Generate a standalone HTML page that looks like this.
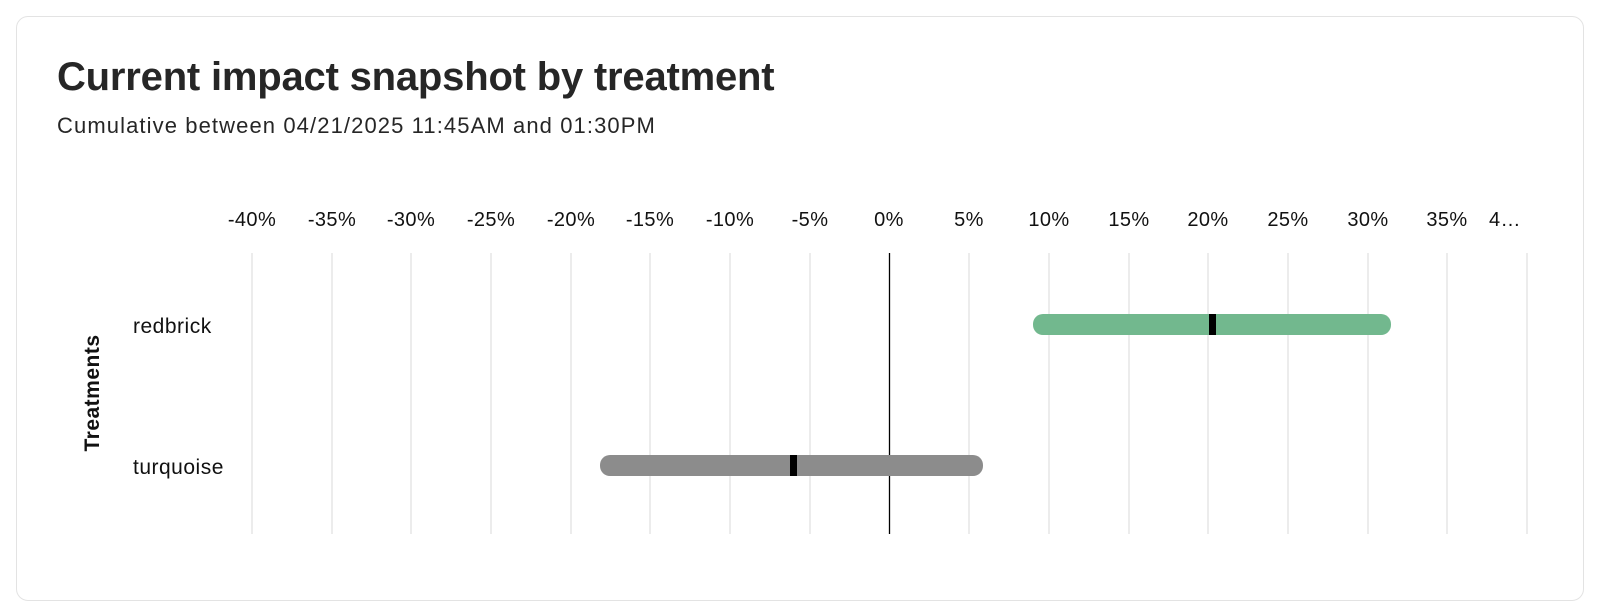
<!DOCTYPE html>
<html><head><meta charset="utf-8"><style>
body{margin:0;width:1600px;height:616px;background:#fff;font-family:"Liberation Sans",sans-serif;overflow:hidden}
.card{position:absolute;left:16px;top:16px;width:1566px;height:583px;border:1px solid #e3e3e3;border-radius:12px}
</style></head><body>
<div class="card"></div>
<div style="position:absolute;left:57px;top:55px;font-size:40px;font-weight:600;color:#262626;letter-spacing:-0.2px">Current impact snapshot by treatment</div>
<div style="position:absolute;left:57px;top:113px;font-size:22px;color:#262626;letter-spacing:1.1px">Cumulative between 04/21/2025 11:45AM and 01:30PM</div>
<svg width="1600" height="616" style="position:absolute;left:0;top:0" font-family="Liberation Sans, sans-serif">
<g stroke="#e2e2e2" stroke-width="1.3">
<line x1="252" y1="253" x2="252" y2="534"/><line x1="332" y1="253" x2="332" y2="534"/><line x1="411" y1="253" x2="411" y2="534"/><line x1="491" y1="253" x2="491" y2="534"/><line x1="571" y1="253" x2="571" y2="534"/><line x1="650" y1="253" x2="650" y2="534"/><line x1="730" y1="253" x2="730" y2="534"/><line x1="810" y1="253" x2="810" y2="534"/><line x1="969" y1="253" x2="969" y2="534"/><line x1="1049" y1="253" x2="1049" y2="534"/><line x1="1129" y1="253" x2="1129" y2="534"/><line x1="1208" y1="253" x2="1208" y2="534"/><line x1="1288" y1="253" x2="1288" y2="534"/><line x1="1368" y1="253" x2="1368" y2="534"/><line x1="1447" y1="253" x2="1447" y2="534"/><line x1="1527" y1="253" x2="1527" y2="534"/>
</g>
<line x1="889.5" y1="253" x2="889.5" y2="534" stroke="#000" stroke-width="1.3"/>
<g font-size="20" fill="#111" text-anchor="middle" letter-spacing="0.4">
<text x="252" y="226">-40%</text><text x="332" y="226">-35%</text><text x="411" y="226">-30%</text><text x="491" y="226">-25%</text><text x="571" y="226">-20%</text><text x="650" y="226">-15%</text><text x="730" y="226">-10%</text><text x="810" y="226">-5%</text><text x="889" y="226">0%</text><text x="969" y="226">5%</text><text x="1049" y="226">10%</text><text x="1129" y="226">15%</text><text x="1208" y="226">20%</text><text x="1288" y="226">25%</text><text x="1368" y="226">30%</text><text x="1447" y="226">35%</text><text x="1505" y="226">4…</text>
</g>
<rect x="1033" y="314" width="358" height="21" rx="10" fill="#72b88e"/>
<rect x="1209" y="314" width="7" height="21" fill="#000"/>
<rect x="600" y="455" width="383" height="21" rx="10" fill="#8c8c8c"/>
<rect x="790" y="455" width="7" height="21" fill="#000"/>
<text x="133" y="333" font-size="21" fill="#111" letter-spacing="0.5">redbrick</text>
<text x="133" y="474" font-size="21" fill="#111" letter-spacing="0.5">turquoise</text>
<text transform="translate(99,393) rotate(-90)" font-size="21" font-weight="bold" fill="#111" text-anchor="middle" letter-spacing="0.5">Treatments</text>
</svg>
</body></html>
